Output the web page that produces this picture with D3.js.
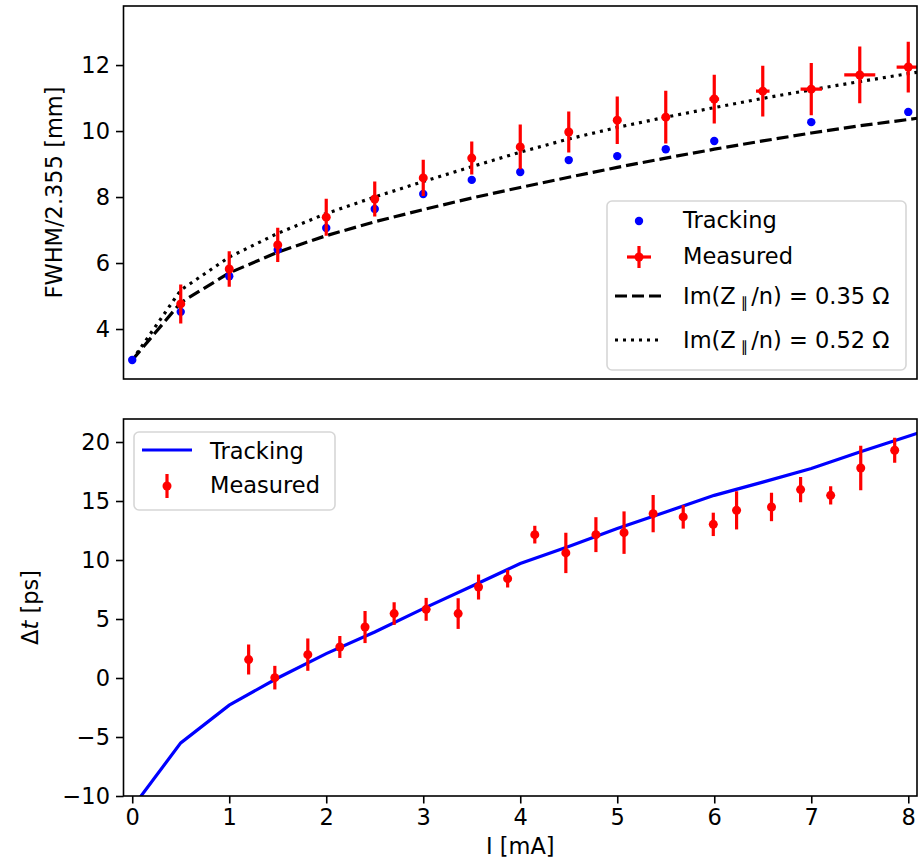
<!DOCTYPE html>
<html>
<head>
<meta charset="utf-8">
<script src="https://cdn.jsdelivr.net/npm/d3@7"></script>
<style>
  html, body { margin: 0; padding: 0; background: #fff; }
  svg { display: block; }
  text { font-family: "DejaVu Sans", sans-serif; fill: #000; }
</style>
</head>
<body>
<svg id="chart" width="920" height="868"></svg>
<script>
// ---------- Data (top panel) ----------
const xTrackTop = [0, 0.5, 1, 1.5, 2, 2.5, 3, 3.5, 4, 4.5, 5, 5.5, 6, 7, 8];
const trackTop  = [3.06, 4.52, 5.60, 6.40, 7.06, 7.64, 8.09, 8.52, 8.76, 9.12, 9.24, 9.45, 9.70, 10.27, 10.58];

const xMeasTop    = [0.5, 1, 1.5, 2, 2.5, 3, 3.5, 4, 4.5, 5, 5.5, 6, 6.5, 7, 7.5, 8];
const measTop     = [4.76, 5.82, 6.55, 7.39, 7.94, 8.58, 9.18, 9.52, 9.97, 10.33, 10.42, 10.97, 11.21, 11.27, 11.70, 11.94];
const measTopYErr = [0.59, 0.54, 0.52, 0.56, 0.53, 0.55, 0.50, 0.68, 0.62, 0.72, 0.80, 0.74, 0.77, 0.79, 0.86, 0.77];
const measTopXErr = [0.03, 0.03, 0.03, 0.03, 0.03, 0.03, 0.03, 0.03, 0.03, 0.04, 0.04, 0.05, 0.07, 0.11, 0.16, 0.12];

const xTheory   = [0, 0.5, 1, 1.5, 2, 2.5, 3, 3.5, 4, 4.5, 5, 5.5, 6, 6.5, 7, 7.5, 8, 8.5];
const theory035 = [3.06, 4.80, 5.70, 6.33, 6.83, 7.25, 7.62, 7.97, 8.29, 8.60, 8.90, 9.18, 9.45, 9.70, 9.94, 10.16, 10.35, 10.56];
const theory052 = [3.06, 5.18, 6.18, 6.90, 7.50, 8.00, 8.47, 8.92, 9.36, 9.76, 10.11, 10.42, 10.71, 10.99, 11.25, 11.50, 11.74, 11.97];

const topYTicks = [4, 6, 8, 10, 12];

// ---------- Data (bottom panel) ----------
const xTrackBot = [0, 0.5, 1, 1.5, 2, 2.5, 3, 3.5, 4, 4.5, 5, 5.5, 6, 6.5, 7, 7.5, 8, 8.5];
const trackBot  = [-11.0, -5.5, -2.3, 0.0, 2.07, 3.9, 5.88, 7.77, 9.7, 11.15, 12.66, 14.07, 15.48, 16.6, 17.75, 19.15, 20.48, 21.9];

const xMeasBot   = [1.20, 1.47, 1.81, 2.14, 2.40, 2.70, 3.03, 3.36, 3.57, 3.87, 4.15, 4.47, 4.78, 5.07, 5.37, 5.68, 5.99, 6.23, 6.59, 6.89, 7.20, 7.51, 7.86];
const measBot    = [1.56, 0.03, 1.98, 2.63, 4.32, 5.46, 5.82, 5.46, 7.71, 8.42, 12.15, 10.60, 12.15, 12.32, 13.93, 13.65, 13.02, 14.21, 14.49, 15.97, 15.48, 17.80, 19.30];
const measBotErr = [1.27, 1.00, 1.37, 0.93, 1.36, 0.96, 0.97, 1.30, 1.06, 0.75, 0.75, 1.71, 1.48, 1.80, 1.58, 0.99, 0.99, 1.62, 1.20, 1.07, 0.78, 1.88, 1.06];

const botYTicks = [-10, -5, 0, 5, 10, 15, 20];
const xTicks = [0, 1, 2, 3, 4, 5, 6, 7, 8];

// ---------- Layout ----------
const FONT = 22.5;
const svg = d3.select("#chart");
const L = 123.5, R = 917;
const top1 = 6, bot1 = 379;
const top2 = 419, bot2 = 796;

const x = d3.scaleLinear().domain([-0.09, 8.09]).range([L, R]);
const y1 = d3.scaleLinear().domain([2.485, 13.79]).range([bot1, top1]);
const y2 = d3.scaleLinear().domain([-10, 21.95]).range([bot2, top2]);

const defs = svg.append("defs");
defs.append("clipPath").attr("id", "clip1").append("rect")
  .attr("x", L).attr("y", top1).attr("width", R - L).attr("height", bot1 - top1);
defs.append("clipPath").attr("id", "clip2").append("rect")
  .attr("x", L).attr("y", top2).attr("width", R - L).attr("height", bot2 - top2);

const RED = "#ff0000", BLUE = "#0000ff";

// ---------- Top panel ----------
const g1 = svg.append("g").attr("clip-path", "url(#clip1)");
const line1 = d3.line().x(d => x(d[0])).y(d => y1(d[1]));

g1.append("path").datum(xTheory.map((v, i) => [v, theory035[i]]))
  .attr("d", line1).attr("fill", "none").attr("stroke", "#000")
  .attr("stroke-width", 3.2).attr("stroke-dasharray", "12,5");
g1.append("path").datum(xTheory.map((v, i) => [v, theory052[i]]))
  .attr("d", line1).attr("fill", "none").attr("stroke", "#000")
  .attr("stroke-width", 3.2).attr("stroke-dasharray", "3,5");

g1.selectAll("circle.trk").data(xTrackTop).join("circle")
  .attr("class", "trk")
  .attr("cx", d => x(d)).attr("cy", (d, i) => y1(trackTop[i]))
  .attr("r", 4.2).attr("fill", BLUE);

const m1 = g1.selectAll("g.meas").data(xMeasTop).join("g").attr("class", "meas");
m1.append("line")
  .attr("x1", d => x(d)).attr("x2", d => x(d))
  .attr("y1", (d, i) => y1(measTop[i] - measTopYErr[i]))
  .attr("y2", (d, i) => y1(measTop[i] + measTopYErr[i]))
  .attr("stroke", RED).attr("stroke-width", 3.2);
m1.append("line")
  .attr("x1", (d, i) => x(d - measTopXErr[i])).attr("x2", (d, i) => x(d + measTopXErr[i]))
  .attr("y1", (d, i) => y1(measTop[i])).attr("y2", (d, i) => y1(measTop[i]))
  .attr("stroke", RED).attr("stroke-width", 3.2);
m1.append("circle")
  .attr("cx", d => x(d)).attr("cy", (d, i) => y1(measTop[i]))
  .attr("r", 4.5).attr("fill", RED);

// top axes
const ay1 = svg.append("g").attr("transform", `translate(${L},0)`)
  .call(d3.axisLeft(y1).tickValues(topYTicks).tickFormat(d3.format("d")).tickSize(7.5).tickPadding(6));
ay1.select(".domain").remove();
ay1.selectAll("line").attr("stroke", "#000").attr("stroke-width", 1.6);
ay1.selectAll("text").style("font-size", FONT + "px").style("font-family", "DejaVu Sans");

svg.append("rect").attr("x", L).attr("y", top1).attr("width", R - L).attr("height", bot1 - top1)
  .attr("fill", "none").attr("stroke", "#000").attr("stroke-width", 1.6);

svg.append("text").attr("transform", `translate(62,${(top1 + bot1) / 2}) rotate(-90)`)
  .attr("text-anchor", "middle").style("font-size", FONT + "px")
  .text("FWHM/2.355 [mm]");

// top legend
const lg1 = svg.append("g");
lg1.append("rect").attr("x", 607).attr("y", 201).attr("width", 299).attr("height", 169)
  .attr("rx", 5).attr("fill", "#fff").attr("fill-opacity", 0.8)
  .attr("stroke", "#d6d6d6").attr("stroke-width", 1.6);
const hx0 = 615, hx1 = 663, tx = 683;
lg1.append("circle").attr("cx", (hx0 + hx1) / 2).attr("cy", 221).attr("r", 4.2).attr("fill", BLUE);
lg1.append("text").attr("x", tx).attr("y", 228).style("font-size", FONT + "px").text("Tracking");
lg1.append("line").attr("x1", 639).attr("x2", 639).attr("y1", 246).attr("y2", 268)
  .attr("stroke", RED).attr("stroke-width", 3.2);
lg1.append("line").attr("x1", 627).attr("x2", 651).attr("y1", 257).attr("y2", 257)
  .attr("stroke", RED).attr("stroke-width", 3.2);
lg1.append("circle").attr("cx", 639).attr("cy", 257).attr("r", 4.5).attr("fill", RED);
lg1.append("text").attr("x", tx).attr("y", 264).style("font-size", FONT + "px").text("Measured");
lg1.append("line").attr("x1", hx0).attr("x2", hx1).attr("y1", 296).attr("y2", 296)
  .attr("stroke", "#000").attr("stroke-width", 3.2).attr("stroke-dasharray", "12,5");
lg1.append("line").attr("x1", hx0).attr("x2", hx1).attr("y1", 340).attr("y2", 340)
  .attr("stroke", "#000").attr("stroke-width", 3.2).attr("stroke-dasharray", "3,5");

function mathLabel(g, xx, yy, val) {
  const t = g.append("text").attr("x", xx).attr("y", yy).style("font-size", FONT + "px");
  t.append("tspan").text("Im(Z");
  t.append("tspan").attr("dx", 5).attr("dy", 4).style("font-size", "15px").text("\u2225");
  t.append("tspan").attr("dx", 3).attr("dy", -4).text("/n) = " + val + " \u03A9");
}
mathLabel(lg1, tx, 304, "0.35");
mathLabel(lg1, tx, 348, "0.52");

// ---------- Bottom panel ----------
const g2 = svg.append("g").attr("clip-path", "url(#clip2)");
const line2 = d3.line().x(d => x(d[0])).y(d => y2(d[1]));
g2.append("path").datum(xTrackBot.map((v, i) => [v, trackBot[i]]))
  .attr("d", line2).attr("fill", "none").attr("stroke", BLUE).attr("stroke-width", 3.2);

const m2 = g2.selectAll("g.meas").data(xMeasBot).join("g").attr("class", "meas");
m2.append("line")
  .attr("x1", d => x(d)).attr("x2", d => x(d))
  .attr("y1", (d, i) => y2(measBot[i] - measBotErr[i]))
  .attr("y2", (d, i) => y2(measBot[i] + measBotErr[i]))
  .attr("stroke", RED).attr("stroke-width", 3.2);
m2.append("circle")
  .attr("cx", d => x(d)).attr("cy", (d, i) => y2(measBot[i]))
  .attr("r", 4.5).attr("fill", RED);

const ay2 = svg.append("g").attr("transform", `translate(${L},0)`)
  .call(d3.axisLeft(y2).tickValues(botYTicks).tickFormat(d => d < 0 ? "\u2212" + Math.abs(d) : d).tickSize(7.5).tickPadding(6));
ay2.select(".domain").remove();
ay2.selectAll("line").attr("stroke", "#000").attr("stroke-width", 1.6);
ay2.selectAll("text").style("font-size", FONT + "px").style("font-family", "DejaVu Sans");

const ax2 = svg.append("g").attr("transform", `translate(0,${bot2})`)
  .call(d3.axisBottom(x).tickValues(xTicks).tickFormat(d3.format("d")).tickSize(7.5).tickPadding(6));
ax2.select(".domain").remove();
ax2.selectAll("line").attr("stroke", "#000").attr("stroke-width", 1.6);
ax2.selectAll("text").style("font-size", FONT + "px").style("font-family", "DejaVu Sans");

svg.append("rect").attr("x", L).attr("y", top2).attr("width", R - L).attr("height", bot2 - top2)
  .attr("fill", "none").attr("stroke", "#000").attr("stroke-width", 1.6);

const yl2 = svg.append("text").attr("transform", `translate(38,${(top2 + bot2) / 2}) rotate(-90)`)
  .attr("text-anchor", "middle").style("font-size", FONT + "px");
yl2.append("tspan").text("\u0394");
yl2.append("tspan").style("font-style", "italic").text("t");
yl2.append("tspan").text(" [ps]");

svg.append("text").attr("x", (L + R) / 2).attr("y", 854).attr("text-anchor", "middle")
  .style("font-size", FONT + "px").text("I [mA]");

// bottom legend
const lg2 = svg.append("g");
lg2.append("rect").attr("x", 134).attr("y", 432).attr("width", 201).attr("height", 78)
  .attr("rx", 5).attr("fill", "#fff").attr("fill-opacity", 0.8)
  .attr("stroke", "#d6d6d6").attr("stroke-width", 1.6);
lg2.append("line").attr("x1", 142).attr("x2", 192).attr("y1", 450).attr("y2", 450)
  .attr("stroke", BLUE).attr("stroke-width", 3.2);
lg2.append("text").attr("x", 210).attr("y", 459).style("font-size", FONT + "px").text("Tracking");
lg2.append("line").attr("x1", 167).attr("x2", 167).attr("y1", 474).attr("y2", 498)
  .attr("stroke", RED).attr("stroke-width", 3.2);
lg2.append("circle").attr("cx", 167).attr("cy", 486).attr("r", 4.5).attr("fill", RED);
lg2.append("text").attr("x", 210).attr("y", 493).style("font-size", FONT + "px").text("Measured");
</script>
</body>
</html>
